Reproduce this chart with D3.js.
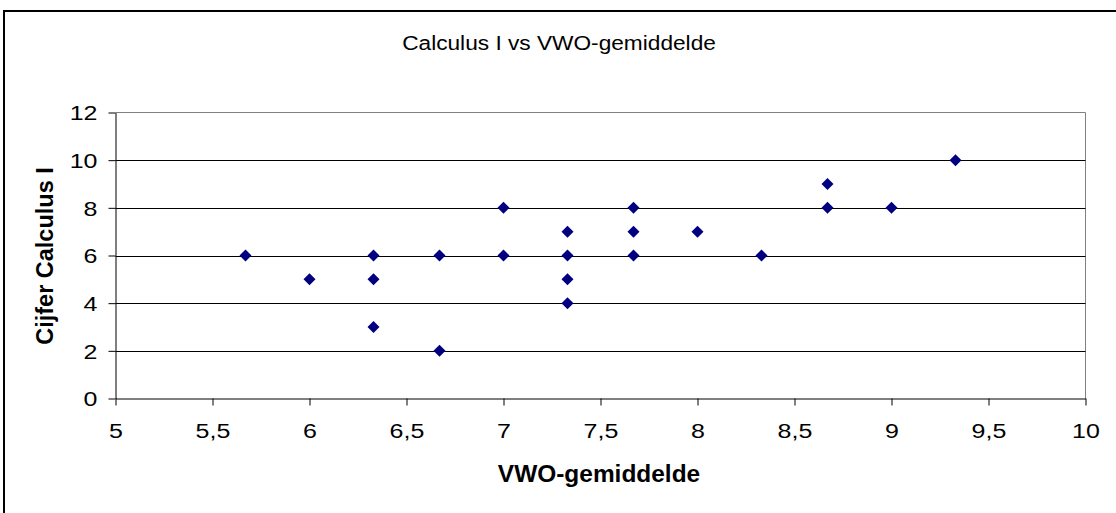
<!DOCTYPE html>
<html><head><meta charset="utf-8">
<script src="https://cdn.jsdelivr.net/npm/d3@7"></script>
<style>body{margin:0;background:#fff}svg{display:block}text{font-family:"Liberation Sans",Arial,sans-serif}</style>
</head><body>
<svg id="c" width="1116" height="513"></svg>
<script>
const vwo =    [5.67, 6, 6.33, 6.33, 6.33, 6.67, 6.67, 7, 7, 7.33, 7.33, 7.33, 7.33, 7.67, 7.67, 7.67, 8, 8.33, 8.67, 8.67, 9, 9.33];
const cijfer = [6,    5, 6,    5,    3,    6,    2,    8, 6, 7,    6,    5,    4,    8,    7,    6,    7, 6,    9,    8,    8, 10];
const xTicks = [5, 5.5, 6, 6.5, 7, 7.5, 8, 8.5, 9, 9.5, 10];
const yTicks = [0, 2, 4, 6, 8, 10, 12];
const title = "Calculus I vs VWO-gemiddelde";
const xTitle = "VWO-gemiddelde";
const yTitle = "Cijfer Calculus I";

const svg = d3.select("#c");
const L = 115.5, R = 1085.5, T = 112.5, B = 398.5;
const x = d3.scaleLinear().domain([5, 10]).range([L, R]);
const y = d3.scaleLinear().domain([0, 12]).range([B, T]);
const FONT = "Liberation Sans, Arial, sans-serif";

// outer frame
svg.append("rect").attr("x", 4).attr("y", 11).attr("width", 1200).attr("height", 600)
  .attr("fill", "#fff").attr("stroke", "#000").attr("stroke-width", 2);

// title
svg.append("text").attr("transform", "translate(559,50) scale(1.08,1)").attr("text-anchor", "middle")
  .attr("font-size", 21).attr("fill", "#000").text(title);

// plot border (top/right gray)
svg.append("path").attr("d", `M${L},${T}H${R}V${B}`).attr("fill", "none")
  .attr("stroke", "#808080").attr("stroke-width", 1);

// gridlines
svg.append("g").selectAll("line").data(yTicks.filter(d => d > 0 && d < 12)).join("line")
  .attr("x1", L).attr("x2", R).attr("y1", d => Math.round(y(d)) + 0.5).attr("y2", d => Math.round(y(d)) + 0.5)
  .attr("stroke", "#000").attr("stroke-width", 1);

// axes
const xAxis = d3.axisBottom(x).tickValues(xTicks).tickSize(7).tickSizeOuter(0)
  .tickFormat(d => String(d).replace(".", ","));
const gx = svg.append("g").attr("transform", `translate(0,${B})`).call(xAxis);
gx.select(".domain").attr("stroke", "#000");
gx.selectAll(".tick line").attr("stroke", "#000");
gx.selectAll(".tick text").attr("font-size", 20.5).attr("fill", "#000")
  .attr("y", 0).attr("dy", 0).attr("transform", "translate(0,39.5) scale(1.22,1)")
  .attr("font-family", FONT);

const yAxis = d3.axisLeft(y).tickValues(yTicks).tickSize(7).tickSizeOuter(0);
const gy = svg.append("g").attr("transform", `translate(${L},0)`).call(yAxis);
gy.select(".domain").attr("stroke", "#000");
gy.selectAll(".tick line").attr("stroke", "#000");
gy.selectAll(".tick text").attr("font-size", 20.5).attr("fill", "#000")
  .attr("x", 0).attr("dy", "0.35em").attr("transform", "translate(-18,0) scale(1.22,1)")
  .attr("font-family", FONT);

// points (diamonds)
svg.append("g").selectAll("path").data(vwo.map((v, i) => [v, cijfer[i]])).join("path")
  .attr("transform", d => `translate(${x(d[0])},${y(d[1])}) rotate(45)`)
  .attr("d", d3.symbol().type(d3.symbolSquare).size(72)())
  .attr("fill", "#000080");

// axis titles
svg.append("text").attr("transform", "translate(599,482) scale(1.04,1)").attr("text-anchor", "middle")
  .attr("font-size", 23.5).attr("font-weight", "bold").attr("fill", "#000").text(xTitle);
svg.append("text").attr("transform", "translate(53,256) rotate(-90)").attr("text-anchor", "middle")
  .attr("font-size", 23.5).attr("font-weight", "bold").attr("fill", "#000").text(yTitle);
</script>
</body></html>
